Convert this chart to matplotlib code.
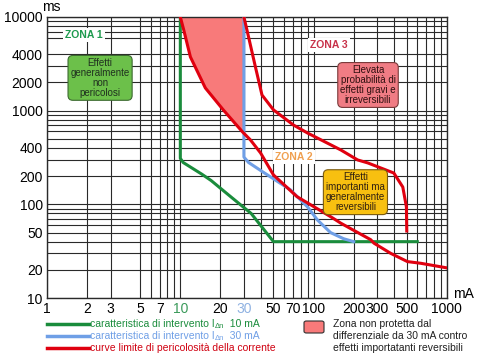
import numpy as np
import matplotlib
matplotlib.use("Agg")
import matplotlib.pyplot as plt
from matplotlib.lines import Line2D
from matplotlib.patches import FancyBboxPatch

plt.rcParams['font.family'] = ['Liberation Sans', 'DejaVu Sans']

# -----------------------------
# Data (mA, ms)
# -----------------------------
x_labels = [1, 2, 3, 5, 7, 10, 20, 30, 50, 70, 100, 200, 300, 500, 1000]
x_minor = [6, 8, 9, 40, 60, 80, 90, 400, 600, 700, 800, 900]
y_labels = [10, 20, 50, 100, 200, 400, 1000, 2000, 4000, 10000]
y_minor = [30, 40, 60, 70, 80, 90, 300, 500, 600, 700, 800, 900,
           3000, 6000, 7000, 8000, 9000]

green_x = [10, 10, 10.5, 14.5, 17, 24, 34, 50, 600]
green_y = [10000, 310, 280, 210, 180, 120, 80, 40, 40]

blue_x = [30, 30, 32.5, 42, 67, 90, 107, 134, 168, 200]
blue_y = [10000, 320, 280, 220, 143, 94, 68, 50, 43, 40]

red1_x = [10, 10.6, 11.9, 15.4, 21, 29.3, 33.6, 40, 50, 75, 134, 160,
          268, 284, 379, 506, 638, 1000]
red1_y = [10000, 7300, 3750, 1750, 1020, 593, 487, 354, 206, 121, 74, 63,
          42, 38.5, 30, 24.5, 23.5, 21]

red2_x = [30, 32, 36.6, 41, 50, 70.6, 90, 160, 214, 255, 400, 467, 497, 500]
red2_y = [10000, 6750, 2930, 1470, 1020, 703, 578, 381, 298, 277, 216, 153, 94, 52]

c_green = '#1a8c3c'
c_blue = '#6f9fe6'
c_red = '#e0000f'
c_fill = '#f87a7a'

fig = plt.figure(figsize=(4.8, 3.54), dpi=100)
ax = fig.add_axes([0.098, 0.158, 0.833, 0.794])
ax.set_xscale('log')
ax.set_yscale('log')
ax.set_xlim(1, 1000)
ax.set_ylim(10, 10000)

# grid
ax.set_xticks(x_labels)
ax.set_xticks(x_minor, minor=True)
ax.set_yticks(y_labels)
ax.set_yticks(y_minor, minor=True)
ax.set_xticklabels([str(v) for v in x_labels], fontsize=10)
ax.set_yticklabels([str(v) for v in y_labels], fontsize=10)
ax.tick_params(which='both', length=0, pad=3)
ax.tick_params(axis='x', pad=3)
ax.grid(which='both', color='#2a2a2a', lw=0.8)
for lab in ax.get_xticklabels():
    if lab.get_text() == '10':
        lab.set_color('#3a9a5a')
    if lab.get_text() == '30':
        lab.set_color('#8fb2e2')
for s in ax.spines.values():
    s.set_color('#2a2a2a')
    s.set_linewidth(1)

# unprotected zone: between red limit curve and 30 mA line
lx = np.log10(red1_x)
ly = np.log10(red1_y)
y30 = 10 ** np.interp(np.log10(30), lx, ly)
fx = [v for v in red1_x if v <= 30] + [30, 30]
fy = [v for v in red1_y[:len(fx) - 2]] + [y30, 10000]
ax.fill(fx, fy, color=c_fill, lw=0, zorder=2)

ax.plot(green_x, green_y, color=c_green, lw=2.2, zorder=4)
ax.plot(blue_x, blue_y, color=c_blue, lw=2.2, zorder=4)
ax.plot(red1_x, red1_y, color=c_red, lw=2.2, zorder=5)
ax.plot(red2_x, red2_y, color=c_red, lw=2.2, zorder=5)

# zone labels
ax.text(1.9, 6400, 'ZONA 1', color='#1e9a4e', fontsize=7.5, fontweight='bold',
        ha='center', va='center', zorder=6,
        bbox=dict(facecolor='white', edgecolor='none', pad=1.5))
ax.text(130, 5000, 'ZONA 3', color='#c8324a', fontsize=7.5, fontweight='bold',
        ha='center', va='center', zorder=6,
        bbox=dict(facecolor='white', edgecolor='none', pad=1.5))
ax.text(71, 320, 'ZONA 2', color='#f0a050', fontsize=7.5, fontweight='bold',
        ha='center', va='center', zorder=6,
        bbox=dict(facecolor='white', edgecolor='none', pad=1.5))

box_kw = dict(fontsize=7, ha='center', va='center', zorder=6, linespacing=1.0)
ax.text(2.5, 2240, 'Effetti\ngeneralmente\nnon\npericolosi', color='#203020',
        bbox=dict(boxstyle='round,pad=0.25,rounding_size=0.5',
                  facecolor='#6cc04a', edgecolor='#3c6a30', lw=0.8), **box_kw)
ax.text(256, 1880, 'Elevata\nprobabilità di\neffetti gravi e\nirreversibili',
        color='#301010',
        bbox=dict(boxstyle='round,pad=0.25,rounding_size=0.5',
                  facecolor='#f07c84', edgecolor='#7a3a3a', lw=0.8), **box_kw)
ax.text(206, 135, 'Effetti\nimportanti ma\ngeneralmente\nreversibili',
        color='#302010',
        bbox=dict(boxstyle='round,pad=0.25,rounding_size=0.5',
                  facecolor='#f8c010', edgecolor='#7a5a10', lw=0.8), **box_kw)

# axis units
fig.text(42 / 480, 1 - 7 / 354, 'ms', fontsize=10, ha='left', va='center')
fig.text(453 / 480, 1 - 294 / 354, 'mA', fontsize=10, ha='left', va='center')

# legend (subscript drawn as a separate small text)
leg_rows = [
    (c_green, c_green, ['caratteristica di intervento I', 'Δn', '  10 mA']),
    (c_blue, c_blue, ['caratteristica di intervento I', 'Δn', '  30 mA']),
    (c_red, '#d00010', ['curve limite di pericolosità della corrente']),
]
leg_y = [324, 336, 348]
fig.canvas.draw()
renderer = fig.canvas.get_renderer()
for (lc, tc, parts), py in zip(leg_rows, leg_y):
    yy = 1 - py / 354
    fig.add_artist(Line2D([47 / 480, 89 / 480], [yy, yy], color=lc, lw=2.5))
    xpos = 90 / 480
    for k, part in enumerate(parts):
        sub = (k == 1)
        t = fig.text(xpos, yy - (2.5 / 354 if sub else 0), part, color=tc,
                     fontsize=5.5 if sub else 7.5, ha='left', va='center')
        xpos += t.get_window_extent(renderer).width / 480

fig.add_artist(FancyBboxPatch((304 / 480, 1 - 333 / 354), 20 / 480, 12 / 354,
                              boxstyle='round,pad=0,rounding_size=0.005',
                              facecolor=c_fill, edgecolor='#303030', lw=0.8,
                              transform=fig.transFigure))
note = ['Zona non protetta dal', 'differenziale da 30 mA contro',
        'effetti importatanti reversibili']
for txt, py in zip(note, leg_y):
    fig.text(333 / 480, 1 - py / 354, txt, color='#202020', fontsize=7.5,
             ha='left', va='center')

fig.savefig('out.png', dpi=100)
